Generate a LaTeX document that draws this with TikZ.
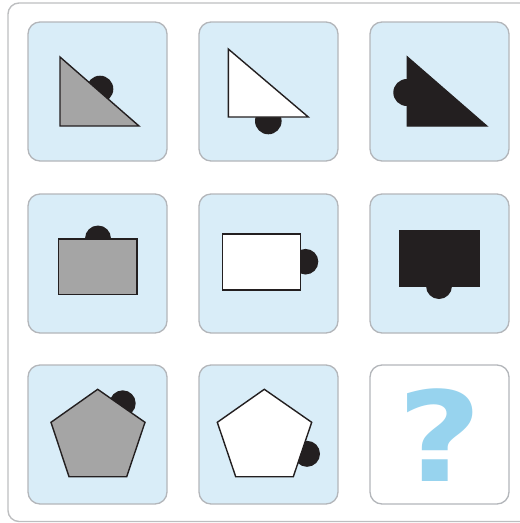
\documentclass[tikz,border=0pt]{standalone}
\usepackage{fontspec}
\newfontfamily\qfont{DejaVu Sans}
\definecolor{panelfill}{HTML}{D9EDF8}
\definecolor{panelline}{HTML}{B3B6BA}
\definecolor{framecol}{HTML}{BDBEC0}
\definecolor{shapegray}{HTML}{A5A5A5}
\definecolor{ink}{HTML}{231F20}
\definecolor{qblue}{HTML}{97D3EE}
\begin{document}
\begin{tikzpicture}[x=1pt,y=-1pt,
  panel/.style={fill=panelfill,draw=panelline,line width=1.3pt,rounded corners=12pt},
  qpanel/.style={fill=white,draw=panelline,line width=1.3pt,rounded corners=12pt},
  frame/.style={draw=framecol,line width=1.4pt,rounded corners=11pt},
  dot/.style={fill=ink},
  fig/.style={draw=ink,line width=1.4pt,line join=miter},
  gfig/.style={fig,fill=shapegray},
  wfig/.style={fig,fill=white},
  bfig/.style={fig,fill=ink}]
\useasboundingbox (0,0) rectangle (520,523);
\begin{scope}
\clip (0,0) rectangle (520,523);
\draw[frame] (8,3) rectangle (545,521.5);
\end{scope}
% panels
\foreach \px in {28,199,370}{
  \foreach \py in {22,194}{
    \draw[panel] (\px,\py) rectangle ++(139,139);
  }
}
\draw[panel] (28,365) rectangle ++(139,139);
\draw[panel] (199,365) rectangle ++(139,139);
\draw[qpanel] (370,365) rectangle ++(139,139);
% row 1
\fill[dot] (100,89) circle (13.3);
\draw[gfig] (60,57) -- (60,126) -- (139,126) -- cycle;
\fill[dot] (268.3,121) circle (13.3);
\draw[wfig] (228.3,49) -- (228.3,117) -- (308.3,117) -- cycle;
\fill[dot] (406.8,92.5) circle (13.5);
\draw[bfig] (407.3,57) -- (407.3,126) -- (486.7,126) -- cycle;
% row 2
\fill[dot] (98,238.5) circle (13);
\draw[gfig] (58.7,239) rectangle (137,294.7);
\fill[dot] (305.5,261.7) circle (12.8);
\draw[wfig] (222.3,234) rectangle (300.5,290);
\fill[dot] (439,286) circle (13);
\draw[bfig] (399.3,230.7) rectangle (479,286.7);
% row 3
\fill[dot] (122.7,403.3) circle (13);
\draw[gfig] (97.7,389.3) -- (145,422.3) -- (126.7,476.7) -- (69,476.7) -- (51,422.3) -- cycle;
\fill[dot] (307,453.8) circle (13);
\draw[wfig] (264.3,389.3) -- (311.7,422.3) -- (293.3,476.7) -- (235.7,476.7) -- (217.3,422.3) -- cycle;
\node[text=qblue,font=\qfont\bfseries\fontsize{125}{125}\selectfont,xscale=1.17,inner sep=0pt] (q) at (439.5,434.7) {?};
\end{tikzpicture}
\end{document}
